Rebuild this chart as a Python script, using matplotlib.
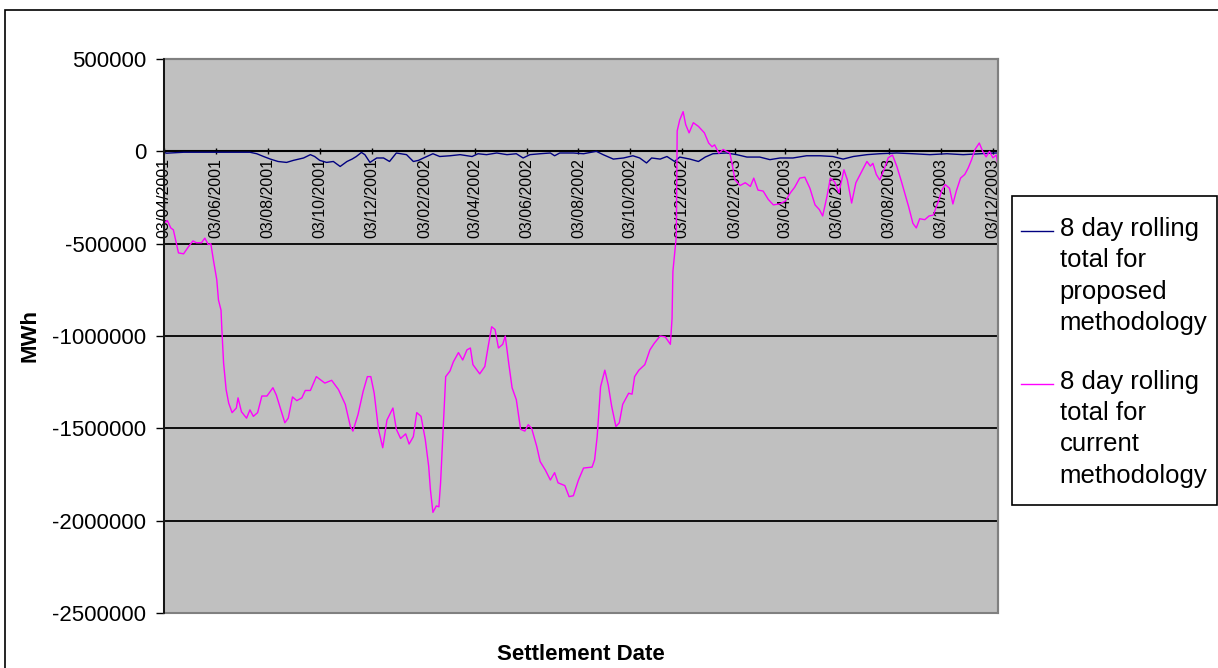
import numpy as np
import pandas as pd
import matplotlib
matplotlib.use('Agg')
import matplotlib.pyplot as plt
import matplotlib.dates as mdates
from matplotlib.patches import Rectangle
from matplotlib.legend_handler import HandlerLine2D

plt.rcParams['font.family'] = ['Liberation Sans', 'DejaVu Sans']

start = pd.Timestamp('2001-04-03')

# settlement day (days after 03/04/2001) and 8 day rolling totals in MWh
days_proposed = [0, 3, 23, 62, 101, 109, 117, 125, 134, 144,
                 152, 164, 172, 177, 183, 191, 199, 207, 215, 221,
                 226, 232, 236, 242, 250, 258, 265, 273, 285, 293,
                 299, 305, 316, 324, 336, 348, 362, 369, 379, 391,
                 403, 414, 422, 430, 442, 454, 459, 465, 481, 493,
                 501, 508, 516, 528, 540, 551, 559, 567, 573, 583,
                 591, 600, 606, 618, 628, 636, 645, 661, 673, 685,
                 700, 712, 724, 739, 755, 771, 786, 798, 810, 826,
                 841, 861, 880, 900, 920, 939, 959, 978]
mwh_proposed = [-5000, -10000, -5000, -5000, -5000, -13000, -28000, -42000, -55000, -60000,
                -49000, -36000, -18000, -28000, -49000, -60000, -55000, -82000, -55000, -42000,
                -28000, -6000, -18000, -60000, -36000, -36000, -55000, -9000, -18000, -55000,
                -49000, -36000, -13000, -28000, -24000, -18000, -28000, -13000, -18000, -9000,
                -18000, -13000, -36000, -18000, -13000, -9000, -24000, -9000, -9000, -13000,
                -6000, 0, -18000, -42000, -36000, -24000, -36000, -63000, -36000, -42000,
                -28000, -55000, -31000, -42000, -55000, -31000, -13000, -9000, -18000, -31000,
                -31000, -45000, -36000, -36000, -24000, -24000, -28000, -42000, -28000, -18000,
                -13000, -9000, -13000, -18000, -13000, -18000, -13000, -9000]

days_current = [0, 4, 8, 11, 17, 23, 29, 34, 38, 44,
                48, 52, 55, 58, 62, 64, 67, 68, 70, 73,
                76, 80, 85, 87, 91, 97, 101, 105, 110, 115,
                121, 128, 132, 142, 146, 151, 156, 162, 166, 172,
                179, 189, 197, 205, 213, 219, 222, 228, 234, 239,
                243, 247, 252, 257, 262, 269, 273, 278, 284, 288,
                293, 297, 302, 307, 311, 313, 316, 320, 323, 325,
                328, 331, 336, 340, 346, 351, 356, 360, 363, 371,
                377, 381, 385, 389, 393, 398, 401, 405, 409, 414,
                419, 424, 428, 432, 438, 442, 448, 454, 459, 463,
                471, 476, 481, 487, 493, 503, 506, 509, 513, 518,
                522, 526, 531, 535, 539, 546, 550, 553, 558, 565,
                571, 576, 583, 589, 595, 597, 598, 602, 603, 606,
                610, 613, 617, 622, 628, 635, 640, 644, 647, 652,
                657, 661, 665, 668, 671, 677, 683, 689, 693, 698,
                704, 710, 716, 723, 730, 736, 741, 747, 753, 759,
                765, 770, 774, 779, 783, 788, 793, 799, 803, 808,
                813, 818, 822, 826, 830, 833, 837, 841, 846, 851,
                856, 861, 866, 871, 875, 880, 884, 888, 894, 899,
                904, 910, 914, 918, 923, 927, 931, 936, 941, 945,
                949, 953, 958, 962, 966, 970, 974, 978, 980]
mwh_current = [-390000, -375000, -415000, -425000, -550000, -555000, -515000, -485000, -495000, -495000,
               -470000, -505000, -500000, -587000, -695000, -805000, -860000, -966000, -1145000, -1290000,
               -1363000, -1415000, -1390000, -1335000, -1410000, -1445000, -1400000, -1435000, -1415000, -1325000,
               -1325000, -1280000, -1320000, -1470000, -1445000, -1330000, -1350000, -1335000, -1295000, -1295000,
               -1220000, -1255000, -1240000, -1290000, -1370000, -1490000, -1515000, -1425000, -1300000, -1220000,
               -1220000, -1310000, -1505000, -1605000, -1455000, -1390000, -1505000, -1555000, -1530000, -1585000,
               -1545000, -1415000, -1435000, -1560000, -1705000, -1830000, -1955000, -1920000, -1925000, -1795000,
               -1505000, -1220000, -1190000, -1140000, -1090000, -1130000, -1075000, -1065000, -1155000, -1205000,
               -1165000, -1055000, -950000, -965000, -1065000, -1045000, -1000000, -1145000, -1280000, -1345000,
               -1505000, -1515000, -1480000, -1500000, -1598000, -1680000, -1725000, -1780000, -1740000, -1795000,
               -1810000, -1870000, -1865000, -1780000, -1715000, -1710000, -1670000, -1545000, -1275000, -1185000,
               -1265000, -1380000, -1490000, -1470000, -1370000, -1310000, -1315000, -1220000, -1185000, -1155000,
               -1075000, -1040000, -1000000, -1005000, -1045000, -905000, -650000, -460000, 110000, 170000,
               215000, 145000, 100000, 155000, 135000, 100000, 45000, 25000, 35000, -10000,
               10000, 0, -10000, -80000, -155000, -185000, -170000, -190000, -145000, -210000,
               -215000, -260000, -290000, -285000, -270000, -225000, -195000, -145000, -140000, -200000,
               -290000, -315000, -350000, -245000, -145000, -165000, -225000, -100000, -155000, -280000,
               -170000, -125000, -90000, -55000, -80000, -65000, -125000, -155000, -100000, -35000,
               -20000, -80000, -155000, -235000, -300000, -390000, -415000, -365000, -370000, -350000,
               -345000, -270000, -210000, -180000, -200000, -285000, -215000, -145000, -125000, -90000,
               -45000, 10000, 45000, 0, -30000, 0, -35000, -20000, -75000]

labels = ['8 day rolling\ntotal for\nproposed\nmethodology',
          '8 day rolling\ntotal for\ncurrent\nmethodology']
yticks = [500000, 0, -500000, -1000000, -1500000, -2000000, -2500000]

dates_proposed = start + pd.to_timedelta(days_proposed, unit='D')
dates_current = start + pd.to_timedelta(days_current, unit='D')
tick_dates = pd.date_range('2001-04-01', '2003-12-01', freq='2MS') + pd.Timedelta(days=2)

LEG_SIZE = 18.5
LEG_SPACING = 1.39
LINE_PITCH = 21.9  # points between wrapped legend lines


class FirstLineHandler(HandlerLine2D):
    # legend keys sit at the middle of the label block; lift them to its first line
    def create_artists(self, legend, orig_handle, xdescent, ydescent,
                       width, height, fontsize, trans):
        arts = super().create_artists(legend, orig_handle, xdescent, ydescent,
                                      width, height, fontsize, trans)
        for a in arts:
            a.set_ydata(np.asarray(a.get_ydata()) + 1.5 * LINE_PITCH)
        return arts


fig = plt.figure(figsize=(12.18, 6.68), dpi=100)
W, H = 1218, 668
ax = fig.add_axes([164 / W, 1 - 613 / H, 834 / W, 554 / H])
ax.set_facecolor('#c0c0c0')

l1, = ax.plot(dates_proposed, mwh_proposed, color='#000080', lw=1.0, zorder=3)
l2, = ax.plot(dates_current, mwh_current, color='#ff00ff', lw=1.0, zorder=3)

ax.set_xlim(start, start + pd.Timedelta(days=980))
ax.set_ylim(-2500000, 500000)
ax.set_yticks(yticks)
ax.set_yticklabels([str(v) for v in yticks])
ax.yaxis.grid(True, color='black', lw=1.3)
ax.set_axisbelow(True)

ax.set_xticks(tick_dates)
ax.xaxis.set_major_formatter(mdates.DateFormatter('%d/%m/%Y'))
ax.tick_params(axis='x', direction='inout', length=4, width=1, pad=3,
               labelsize=11.5, labelrotation=90, colors='black')
ax.tick_params(axis='y', direction='out', length=5.8, width=1, pad=7,
               labelsize=16, colors='black')
for lab in ax.get_xticklabels():
    lab.set_va('top')

ax.spines['bottom'].set_position(('data', 0))
ax.spines['bottom'].set_linewidth(1.5)
ax.spines['left'].set_linewidth(1.2)
ax.spines['left'].set_zorder(4)
for s in ('top', 'right'):
    ax.spines[s].set_color('#808080')
    ax.spines[s].set_linewidth(1.5)
ax.add_patch(Rectangle((0, 0), 1, 1, transform=ax.transAxes, fill=False,
                       ec='#808080', lw=1.5, clip_on=False, zorder=3.5))

ax.set_ylabel('MWh', fontsize=16, fontweight='bold')
ax.yaxis.set_label_coords(-0.148, 0.5)
ax.set_xlabel('Settlement Date', fontsize=16, fontweight='bold')
ax.xaxis.set_label_coords(0.5, -0.056)

leg = ax.legend([l1, l2], labels, loc='upper left',
                bbox_to_anchor=(1021 / W, 1 - 217 / H), bbox_transform=fig.transFigure,
                frameon=False, fontsize=LEG_SIZE, borderaxespad=0, borderpad=0,
                handlelength=1.24, handletextpad=0.27, labelspacing=1.34,
                handler_map={matplotlib.lines.Line2D: FirstLineHandler()})
for t in leg.get_texts():
    t.set_linespacing(LEG_SPACING)
fig.add_artist(Rectangle((1012 / W, 1 - 505 / H), 205 / W, 309 / H,
                         transform=fig.transFigure, fill=False, ec='black', lw=1.2))

# chart area border
fig.add_artist(Rectangle((4.5 / W, -0.5), 2, 1.5 - 9.5 / H,
                         transform=fig.transFigure, fill=False, ec='black', lw=1.2))

fig.savefig('out.png', dpi=100)
